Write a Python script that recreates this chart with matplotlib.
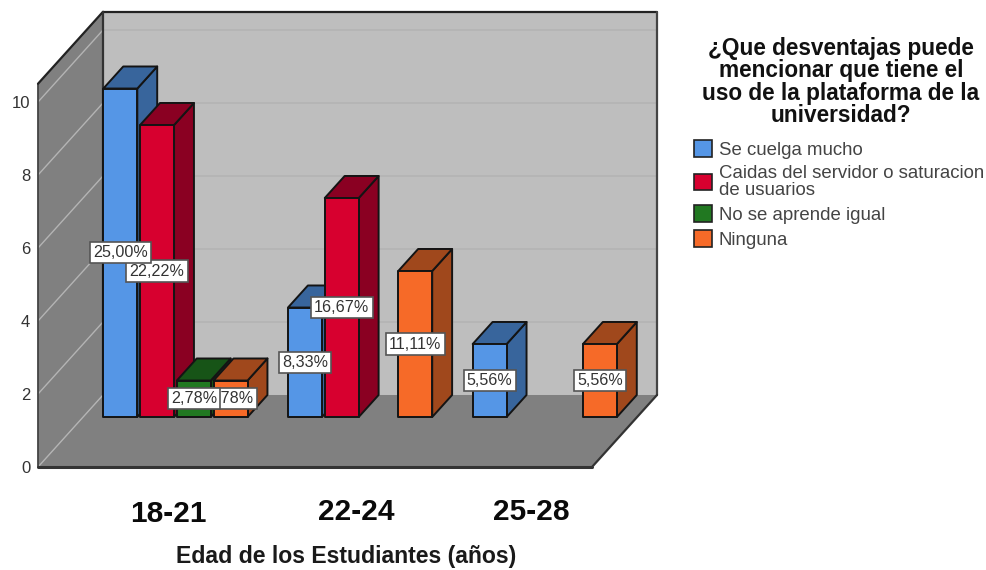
import matplotlib.pyplot as plt
from matplotlib.patches import Patch

plt.rcParams['font.family'] = ['Liberation Sans', 'DejaVu Sans']

# counts per age group
age_groups = ["18-21", "22-24", "25-28"]
series_names = ["Se cuelga mucho", "Caidas del servidor o saturacion\nde usuarios",
                "No se aprende igual", "Ninguna"]
se_cuelga = [9, 3, 2]
caidas = [8, 6, 0]
no_aprende = [1, 0, 0]
ninguna = [1, 4, 2]
series = [se_cuelga, caidas, no_aprende, ninguna]
total = 36

yticks = [0, 2, 4, 6, 8, 10]
front_colors = ["#5596E6", "#D7002F", "#217821", "#F66A28"]
dark_colors = ["#38659C", "#8A0022", "#175417", "#A0481C"]
EDGE = "#141414"

W, H = 987, 570
# oblique projection: depth z runs from 0 (front) to 1 (back wall)
DX, DY = 0.352, 1.973
YTOP = 10.5
BAR_Z0 = 0.694
BAR_W = 0.184
SLOT = 0.199


def proj(x, y, z):
    return x + DX * z, y + DY * z


def poly(pts, z, **kw):
    xs, ys = zip(*[proj(*p) for p in pts])
    ax.fill(xs, ys, zorder=z, clip_on=False, **kw)


def line(p0, p1, z=2, **kw):
    a, b = proj(*p0), proj(*p1)
    ax.plot([a[0], b[0]], [a[1], b[1]], zorder=z, clip_on=False, solid_capstyle='round', **kw)


fig = plt.figure(figsize=(W / 100, H / 100), dpi=100)
# axes rectangle is the front plane of the box
ax = fig.add_axes([38 / W, 1 - 467 / H, 554 / W, 365 / H])
ax.set_xlim(0, len(age_groups))
ax.set_ylim(0, 10)
for s in ax.spines.values():
    s.set_visible(False)
ax.patch.set_visible(False)
ax.set_xticks([])
ax.set_yticks(yticks)
ax.tick_params(axis='y', length=0, pad=5.5, labelsize=12, labelcolor="#333333")

# walls and floor
xmax = len(age_groups)
poly([(0, 0, 1), (xmax, 0, 1), (xmax, YTOP, 1), (0, YTOP, 1)], 1, fc="#BEBEBE", ec="none")
poly([(0, 0, 0), (0, 0, 1), (0, YTOP, 1), (0, YTOP, 0)], 1, fc="#808080", ec="none")
poly([(0, 0, 0), (xmax, 0, 0), (xmax, 0, 1), (0, 0, 1)], 1, fc="#808080", ec="none")

for v in yticks:
    if v > 0:
        line((0, v, 1), (xmax, v, 1), color="#B4B4B4", lw=1.2)
    line((0, v, 0), (0, v, 1), color="#B4B4B4", lw=1.0)

wall_edge = dict(color="#222222", lw=1.6)
line((0, 0, 0), (0, YTOP, 0), color="#444444", lw=1.3)
line((0, YTOP, 0), (0, YTOP, 1), **wall_edge)
line((0, YTOP, 1), (xmax, YTOP, 1), **wall_edge)
line((0, 0, 1), (0, YTOP, 1), color="#333333", lw=1.6)
line((xmax, 0, 1), (xmax, YTOP, 1), color="#444444", lw=1.6)
line((xmax, 0, 0), (xmax, 0, 1), color="#333333", lw=1.6)
line((0, 0, 0), (xmax, 0, 0), color="#333333", lw=2.2)

# bars, left to right so later ones cover the sides of earlier ones
order = 10
n = len(series)
for g in range(len(age_groups)):
    for i in range(n):
        v = series[i][g]
        if v == 0:
            continue
        x0 = g + 0.5 + (i - (n - 1) / 2) * SLOT - BAR_W / 2
        x1 = x0 + BAR_W
        style = dict(ec=EDGE, lw=1.4, joinstyle='round')
        poly([(x1, 0, BAR_Z0), (x1, 0, 1), (x1, v, 1), (x1, v, BAR_Z0)], order, fc=dark_colors[i], **style)
        poly([(x0, v, BAR_Z0), (x1, v, BAR_Z0), (x1, v, 1), (x0, v, 1)], order, fc=dark_colors[i], **style)
        poly([(x0, 0, BAR_Z0), (x1, 0, BAR_Z0), (x1, v, BAR_Z0), (x0, v, BAR_Z0)], order, fc=front_colors[i], **style)
        order += 1

        # value label, first series stays on top
        pct = f"{100 * v / total:.2f}".replace(".", ",") + "%"
        cx, cy = proj((x0 + x1) / 2, v / 2, BAR_Z0)
        ax.text(cx, cy, pct, ha='center', va='center', fontsize=11.6, color="#333333",
                zorder=100 - i,
                bbox=dict(boxstyle='square,pad=0.2', fc='white', ec="#555555", lw=1.2))

# category labels sit off the group centres
label_x = [168, 356, 531]
label_y = [514, 512, 512]
for name, x, y in zip(age_groups, label_x, label_y):
    fig.text(x / W, 1 - y / H, name, ha='center', va='center', fontsize=21.5,
             fontweight='bold', color="#0a0a0a")
fig.text(346 / W, 1 - 556 / H, "Edad de los Estudiantes (años)", ha='center', va='center',
         fontsize=16.6, fontweight='bold', color="#1a1a1a")

fig.text(841 / W, 1 - 82 / H,
         "¿Que desventajas puede\nmencionar que tiene el\nuso de la plataforma de la\nuniversidad?",
         ha='center', va='center', multialignment='center', fontsize=16.3, fontweight='bold',
         linespacing=0.96, color="#111111")

handles = [Patch(fc=c, ec="#222222", lw=1.2) for c in front_colors]
leg = fig.legend(handles, series_names, loc='upper left', bbox_to_anchor=(694 / W, 1 - 140 / H),
                 frameon=False, fontsize=13.45, labelcolor="#444444", handlelength=0.97, handleheight=1.0,
                 handletextpad=0.35, labelspacing=0.33, borderpad=0, borderaxespad=0)
for t in leg.get_texts():
    t.set_linespacing(1.0)

fig.savefig("out.png", dpi=100)
